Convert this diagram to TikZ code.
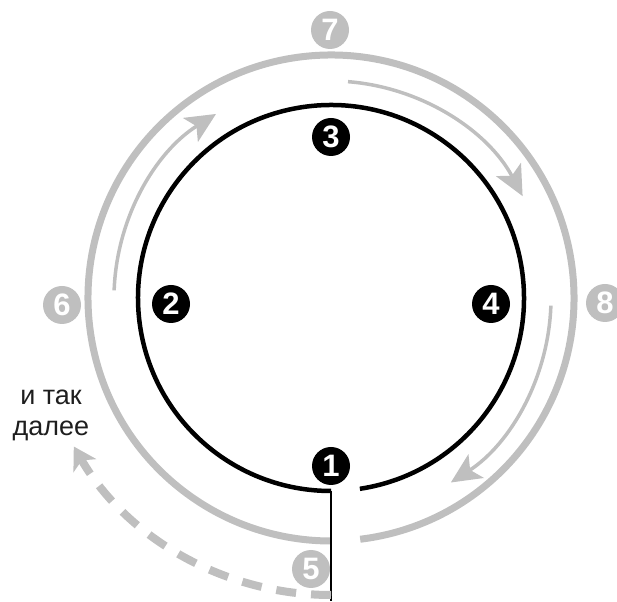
\documentclass[tikz,border=0pt]{standalone}
\usepackage{fontspec}
\setmainfont{Liberation Sans}
\usetikzlibrary{arrows.meta, calc}
\definecolor{ringcolor}{RGB}{0, 0, 0}
\definecolor{loopcolor}{RGB}{191, 191, 191}
\definecolor{notecolor}{RGB}{30, 30, 30}

\begin{document}
\begin{tikzpicture}[
    x=1pt, y=1pt,
    % Estilos dos aneis
    blackring/.style={draw=ringcolor, line width=4.5pt},
    greyring/.style={draw=loopcolor, line width=7pt},
    looparrow/.style={
        draw=loopcolor, line width=3.5pt,
        -{Stealth[length=30pt, width=28pt, inset=7pt]}
    },
    nextarrow/.style={
        draw=loopcolor, line width=8pt,
        dash pattern=on 20pt off 15pt,
        -{Stealth[length=22pt, width=26pt, inset=6pt]}
    },
    stemline/.style={draw=ringcolor, line width=1.3pt},
    % Marcadores numerados
    blackmark/.style={
        circle, fill=ringcolor, text=white,
        minimum size=38pt, inner sep=0pt,
        font=\fontsize{31}{31}\selectfont\bfseries
    },
    greymark/.style={blackmark, fill=loopcolor},
    notelabel/.style={
        align=center, text=notecolor,
        font=\fontsize{27}{31}\selectfont
    }
]
\useasboundingbox (0, 0) rectangle (617, 601);

% ============================================================================
% ANEIS
% ============================================================================
\coordinate (c) at (331, 303);

\draw[greyring] ($(c)+(-83.1:243)$) arc[start angle=-83.1, end angle=270, radius=243];
\draw[blackring] ($(c)+(-81.4:193)$) arc[start angle=-81.4, end angle=270, radius=193];

\coordinate (stemtop) at ($(c)+(270:193)$);
\coordinate (stembot) at ($(c)+(270:303)$);
\draw[stemline] (stemtop) -- (stembot);

% Setas entre os aneis
\draw[looparrow] ($(c)+(178:217)$) arc[start angle=178, end angle=122, radius=217];
\draw[looparrow] ($(c)+(85.5:217)$) arc[start angle=85.5, end angle=28, radius=217];
\draw[looparrow] ($(c)+(-2:220)$) arc[start angle=-2, end angle=-57, radius=220];

% Seta tracejada (proxima volta)
\draw[nextarrow] ($(c)+(270:297)$) arc[start angle=270, end angle=210, radius=297];

% ============================================================================
% MARCADORES
% ============================================================================
\node[blackmark] (m1) at (331, 135) {1};
\node[blackmark] (m2) at (171, 297) {2};
\node[blackmark] (m3) at (331, 464) {3};
\node[blackmark] (m4) at (491, 297) {4};

\node[greymark] (m5) at (311, 32) {5};
\node[greymark] (m6) at (62, 296) {6};
\node[greymark] (m7) at (330, 571) {7};
\node[greymark] (m8) at (605, 298) {8};

\node[notelabel] (etc) at (51, 186) {и так\\далее};

\end{tikzpicture}
\end{document}
